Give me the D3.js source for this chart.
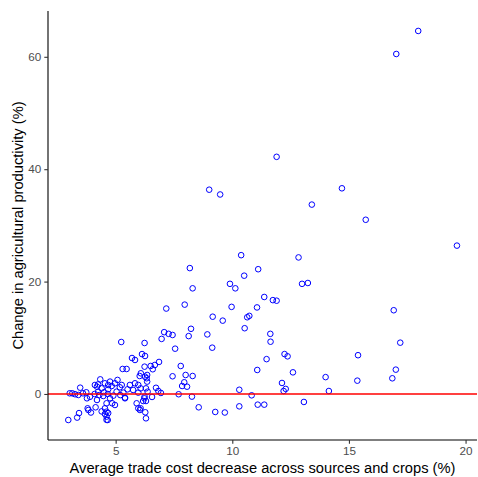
<!DOCTYPE html>
<html>
<head>
<meta charset="utf-8">
<script src="https://cdn.jsdelivr.net/npm/d3@7"></script>
<style>
  html, body { margin: 0; padding: 0; background: #fff; }
  svg { display: block; }
  text { font-family: "Liberation Sans", Arial, Helvetica, sans-serif; }
</style>
</head>
<body>
<svg id="chart" width="478" height="477"></svg>
<script>
// Average trade cost decrease (%) for each point
const tradeCostDecrease = [
  17.97,17.03,11.9,9.01,9.48,14.7,13.41,15.72,19.63,
  10.38,12.84,11.11,10.51,8.18,9.9,10.13,12.99,13.24,8.3,
  11.37,11.74,11.9,11.06,10.64,10.73,10.53,11.63,11.64,12.24,12.37,11.47,11.07,12.6,12.13,12.29,12.2,10.3,10.83,10.3,11.09,11.37,13.07,14.0,14.14,15.39,15.36,16.92,17.2,17.01,16.86,
  9.97,9.16,9.59,8.93,9.14,
  7.17,7.96,5.24,6.24,7.08,6.97,7.27,7.44,8.23,8.13,7.55,6.13,5.70,5.83,6.86,7.79,6.24,6.5,6.68,5.3,5.47,
  7.44,8.0,8.3,7.94,7.85,8.06,7.7,8.27,8.56,9.27,9.68,
  6.59,6.35,6.33,6.35,6.3,6.73,6.83,6.94,6.56,6.24,6.18,6.3,6.07,6.27,6.3,6.07,6.26,
  2.97,3.35,3.43,3.03,3.14,3.26,3.4,3.48,3.6,3.74,3.77,3.8,3.83,3.94,4.14,4.2,4.25,4.11,4.2,4.34,4.4,4.54,4.47,4.54,4.54,4.61,4.4,
  6.08,6.03,6.26,5.08,4.97,5.83,5.97,5.61,4.83,5.18,5.51,4.68,4.66,5.04,5.33,5.75,5.97,6.37,4.76,4.85,5.4,6.23,5.9,5.97,6.04,4.61,4.66,4.61,
  4.25,4.68,4.76,5.26,4.61,4.68,4.97,5.4,4.3,4.5,4.9,5.2,4.1,3.9
];
// Change in agricultural productivity (%) for each point
const productivityChange = [
  64.6,60.5,42.2,36.35,35.5,36.6,33.7,31.0,26.4,
  24.7,24.3,22.2,21.05,22.4,19.6,18.8,19.6,19.75,18.8,
  17.26,16.7,16.6,15.4,13.65,13.9,11.7,10.7,9.3,7.1,6.7,6.2,4.27,3.85,1.96,0.9,0.53,0.75,-0.24,-2.2,-1.9,-1.9,-1.42,3.0,0.53,6.9,2.37,14.9,9.13,4.33,2.79,
  15.5,13.75,13.05,10.6,8.24,
  15.2,15.9,9.25,9.07,11.0,9.8,10.7,10.5,11.6,10.3,8.06,7.1,6.4,6.05,5.7,4.98,4.86,4.98,5.16,4.45,4.45,
  3.15,3.38,3.2,2.08,1.42,1.3,-0.05,-0.47,-2.37,-3.2,-3.3,
  4.4,3.38,2.8,2.2,1.0,1.1,0.53,0.18,-0.53,-0.48,-1.25,-1.25,-2.55,-3.26,-4.33,1.0,6.76,
  -4.63,-4.2,-3.4,0.12,0.12,-0.05,-0.18,1.12,0.12,0.3,-0.77,-2.55,-2.85,-3.3,-2.37,-1.07,0.4,1.6,1.3,2.6,1.0,1.9,-0.36,-2.55,-3.56,-4.6,-3.1,
  3.68,3.2,3.08,2.5,1.9,1.9,1.6,1.6,1.42,1.19,0.83,0.83,0.0,0.41,0.24,0.71,0.24,0.41,-0.77,-1.66,-0.77,-0.77,-1.66,-2.55,-2.85,-3.15,-4.63,-4.03,
  1.7,1.6,2.2,1.6,-1.66,-3.4,-1.96,-0.65,-0.2,0.3,-0.3,-0.2,0.0,-0.5
];
const xTicks = [5, 10, 15, 20];
const yTicks = [0, 20, 40, 60];
const referenceLine = [0];
const xTitle = "Average trade cost decrease across sources and crops (%)";
const yTitle = "Change in agricultural productivity (%)";

const points = tradeCostDecrease.map((x, i) => ({ x, y: productivityChange[i] }));

const svg = d3.select("#chart");
const panel = { left: 48, right: 477, top: 11, bottom: 440 };

const x = d3.scaleLinear().domain([2.1, 20.49]).range([panel.left, panel.right]);
const y = d3.scaleLinear().domain([-8.19, 68.15]).range([panel.bottom, panel.top]);

// points
svg.append("g")
  .selectAll("circle")
  .data(points)
  .join("circle")
  .attr("cx", d => x(d.x))
  .attr("cy", d => y(d.y))
  .attr("r", 2.8)
  .attr("fill", "none")
  .attr("stroke", "#0000ff")
  .attr("stroke-width", 1);

// horizontal reference line
svg.append("g")
  .selectAll("line")
  .data(referenceLine)
  .join("line")
  .attr("x1", panel.left)
  .attr("x2", panel.right)
  .attr("y1", d => y(d))
  .attr("y2", d => y(d))
  .attr("stroke", "#ff0000")
  .attr("stroke-width", 1.5);

// axes
const xAxis = d3.axisBottom(x).tickValues(xTicks).tickSize(3.7).tickPadding(3).tickFormat(d3.format("d"));
const yAxis = d3.axisLeft(y).tickValues(yTicks).tickSize(3.7).tickPadding(3).tickFormat(d3.format("d"));

const gx = svg.append("g").attr("transform", `translate(0,${panel.bottom})`).call(xAxis);
const gy = svg.append("g").attr("transform", `translate(${panel.left},0)`).call(yAxis);

[gx, gy].forEach(g => {
  g.select(".domain").attr("stroke", "#000").attr("stroke-width", 1.1);
  g.selectAll(".tick line").attr("stroke", "#333").attr("stroke-width", 1.1);
  g.selectAll(".tick text").attr("fill", "#4d4d4d").style("font-size", "11.7px");
});
gx.select(".domain").attr("d", `M${panel.left},0H${panel.right}`);
gy.select(".domain").attr("d", `M0,${panel.bottom}V${panel.top}`);

// axis titles
svg.append("text")
  .attr("x", (panel.left + panel.right) / 2)
  .attr("y", 473)
  .attr("text-anchor", "middle")
  .attr("fill", "#000")
  .style("font-size", "14.7px")
  .text(xTitle);

svg.append("text")
  .attr("transform", `translate(23,${(panel.top + panel.bottom) / 2}) rotate(-90)`)
  .attr("text-anchor", "middle")
  .attr("fill", "#000")
  .style("font-size", "14.7px")
  .text(yTitle);
</script>
</body>
</html>
